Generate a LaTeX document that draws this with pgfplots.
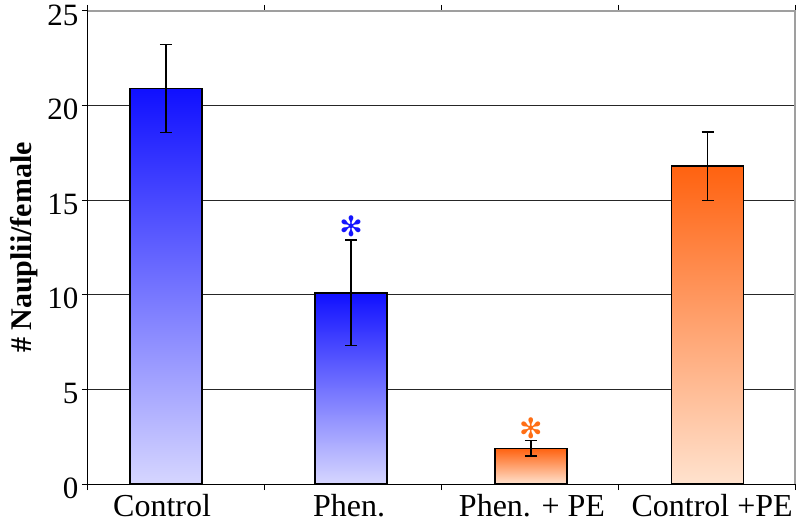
\documentclass[border=0pt]{standalone}
\usepackage{fontspec}
\setmainfont{Liberation Serif}
\newfontfamily\symfont{DejaVu Sans}
\usepackage{pgfplots}
\pgfplotsset{compat=1.18}

\definecolor{bluetop}{RGB}{16,16,255}
\definecolor{bluebot}{RGB}{214,214,255}
\definecolor{orangetop}{RGB}{255,98,16}
\definecolor{orangebot}{RGB}{255,226,206}
\definecolor{starblue}{RGB}{20,20,255}
\definecolor{starorange}{RGB}{255,110,20}

\pgfplotsset{
    gradbar/.style 2 args={ybar, bar shift=0pt, bar width=72bp, draw=black,
        line width=1.3bp, top color=#1, bottom color=#2,
        error bars/.cd, y dir=both, y explicit,
        error bar style={black, line width=1.2bp},
        error mark options={rotate=90, mark size=6bp, line width=1.2bp}},
    star/.style={draw=none, mark=none, point meta=explicit symbolic,
        nodes near coords, nodes near coords align={center},
        nodes near coords style={font=\symfont\fontsize{28bp}{28bp}\selectfont,
            text=#1, anchor=center}},
}

\begin{document}
\begin{tikzpicture}
\begin{axis}[
    scale only axis,
    width=707bp, height=473bp,
    xmin=0, xmax=4, ymin=0, ymax=25,
    clip=false,
    xtick={0.419,1.477,2.512,3.531},
    xticklabels={Control,Phen.,Phen. + PE,Control +PE},
    minor xtick={0,1,2,3,4},
    major x tick style={draw=none},
    ytick={0,5,...,25},
    tick align=outside,
    major tick length=6bp, minor tick length=6bp,
    ymajorgrids,
    grid style={black!85, line width=0.9bp},
    axis line style={black, line width=1bp},
    tick style={black, line width=1bp},
    /pgf/number format/assume math mode=true,
    yticklabel style={font=\fontsize{31bp}{32bp}\selectfont, yshift=-4bp},
    xticklabel style={font=\fontsize{32bp}{33bp}\selectfont, yshift=-1bp},
    ylabel={\bfseries \# Nauplii/female},
    ylabel style={font=\fontsize{30bp}{31bp}\selectfont, yshift=3bp},
]
% one plot per bar, so that each bar has its own gradient
\addplot[gradbar={bluetop}{bluebot}] coordinates {(0.441,20.9) +- (0,2.32)};
\addplot[gradbar={bluetop}{bluebot}] coordinates {(1.488,10.1) +- (0,2.8)};
\addplot[gradbar={orangetop}{orangebot}] coordinates {(2.506,1.88) +- (0,0.4)};
\addplot[gradbar={orangetop}{orangebot}] coordinates {(3.505,16.8) +- (0,1.8)};
% significance asterisks
\addplot[star=starblue] coordinates {(1.488,13.6) [✻]};
\addplot[star=starorange] coordinates {(2.506,2.95) [✻]};
\draw[gray!75, line width=1.6bp] (rel axis cs:0,1) -- (rel axis cs:1,1) -- (rel axis cs:1,0);
\coordinate (o) at (rel axis cs:0,0);
\end{axis}
\pgfresetboundingbox
\path ([shift={(-88bp,-45bp)}]o) rectangle ++(796bp,529bp);
\end{tikzpicture}
\end{document}
